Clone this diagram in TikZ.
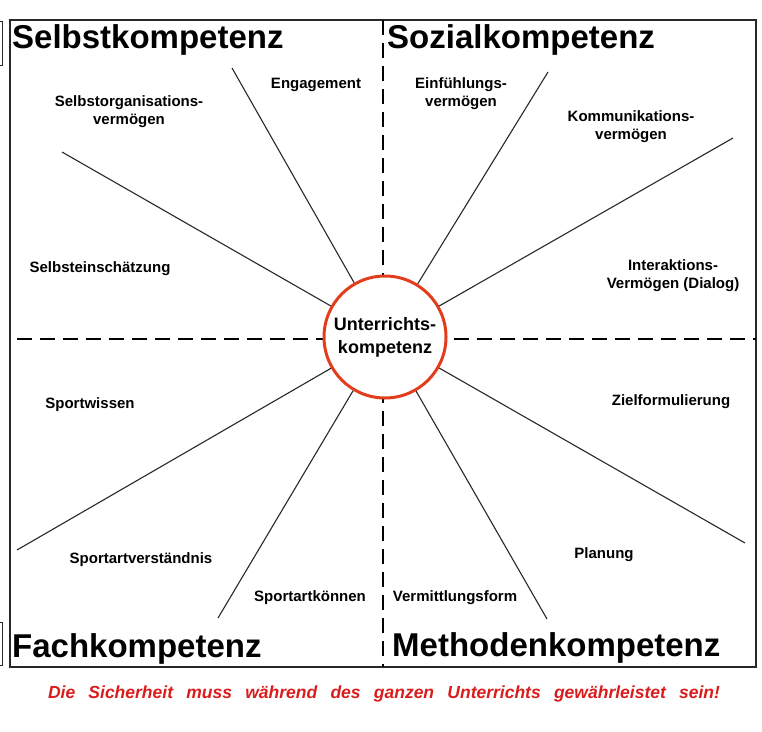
\documentclass[tikz,border=0pt]{standalone}
\usepackage{fontspec}
\setmainfont{Liberation Sans}
\definecolor{ringred}{RGB}{226,62,30}
\definecolor{notered}{RGB}{218,28,28}
\definecolor{linegrey}{RGB}{40,40,40}
\begin{document}
\begin{tikzpicture}[x=1pt,y=-1pt,
  frame/.style={draw=linegrey,line width=1.3pt},
  divider/.style={draw=black,line width=2pt,dash pattern=on 15pt off 8pt},
  ray/.style={draw=linegrey,line width=1.1pt},
  title/.style={anchor=base west,inner sep=0pt,font=\fontsize{33}{36}\selectfont\bfseries},
  lbl/.style={align=center,inner sep=0pt,yshift=-2pt,font=\fontsize{15}{18}\selectfont\bfseries},
  hub/.style={circle,draw=ringred,line width=3pt,fill=white,minimum size=122pt,inner sep=0pt,
    align=center,font=\fontsize{18}{23}\selectfont\bfseries}]
\useasboundingbox (0,0) rectangle (762,731);
% crop marks at the left edge
\draw[frame,line width=1pt] (-2,21) -- (2.5,21) -- (2.5,65) -- (-2,65);
\draw[frame,line width=1pt] (-2,622) -- (2.5,622) -- (2.5,665) -- (-2,665);
% frame
\draw[frame] (10,20) rectangle (756,667);
% quadrant dividers
\coordinate (vt) at (383,20);
\coordinate (vb) at (383,667);
\coordinate (hl) at (17,339);
\coordinate (hr) at (756,339);
\draw[divider] (vt) -- (vb);
\draw[divider] (hl) -- (hr);
% hub
\node[hub] (c) at (385,337) {Unterrichts-\\kompetenz};
% ray ends
\coordinate (e1) at (232,68);
\coordinate (e2) at (62,152);
\coordinate (e3) at (548,72);
\coordinate (e4) at (733,138);
\coordinate (e5) at (17,550);
\coordinate (e6) at (218,618);
\coordinate (e7) at (547,619);
\coordinate (e8) at (745,543);
\foreach \p in {e1,e2,e3,e4,e5,e6,e7,e8} \draw[ray] (c) -- (\p);
% titles
\node[title] (t1) at (12,48) {Selbstkompetenz};
\node[title] (t2) at (387,48) {Sozialkompetenz};
\node[title] (t3) at (12,657) {Fachkompetenz};
\node[title] (t4) at (392,656) {Methodenkompetenz};
% labels
\node[lbl] (l1) at (316,83) {Engagement};
\node[lbl] (l2) at (129,110) {Selbstorganisations-\\vermögen};
\node[lbl] (l3) at (461,92) {Einfühlungs-\\vermögen};
\node[lbl] (l4) at (631,125) {Kommunikations-\\vermögen};
\node[lbl] (l5) at (673,274) {Interaktions-\\Vermögen (Dialog)};
\node[lbl] (l6) at (100,267) {Selbsteinschätzung};
\node[lbl] (l7) at (90,403) {Sportwissen};
\node[lbl] (l8) at (671,400) {Zielformulierung};
\node[lbl] (l9) at (141,558) {Sportartverständnis};
\node[lbl] (l10) at (604,553) {Planung};
\node[lbl] (l11) at (310,596) {Sportartkönnen};
\node[lbl] (l12) at (455,596) {Vermittlungsform};
% note
\node[anchor=base,inner sep=0pt,text=notered,font=\fontsize{17.5}{20}\selectfont\bfseries\itshape] (note) at (384,698)
  {\makebox[672pt][s]{Die\hfill Sicherheit\hfill muss\hfill während\hfill des\hfill ganzen\hfill Unterrichts\hfill gewährleistet\hfill sein!}};
\end{tikzpicture}
\end{document}
